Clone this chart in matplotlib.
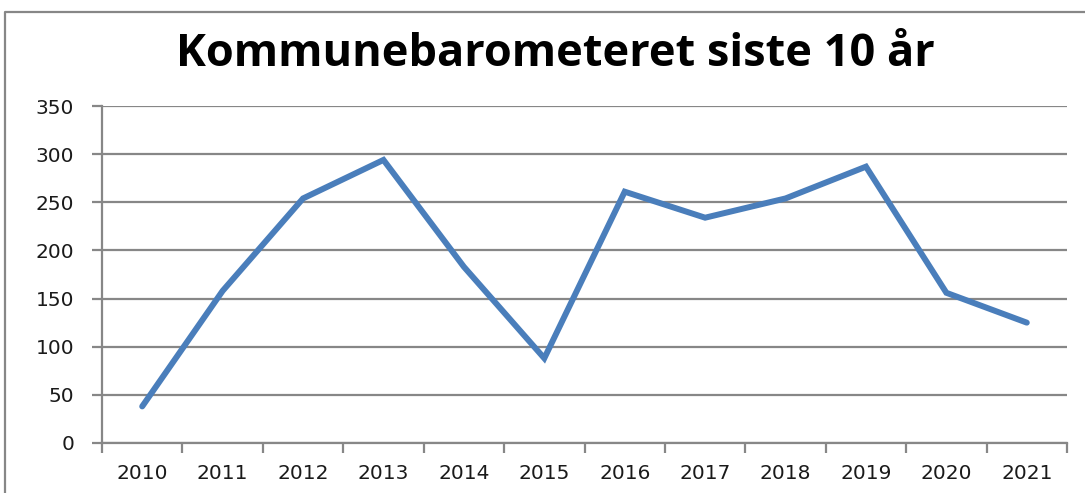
import matplotlib
matplotlib.use("Agg")
import matplotlib.pyplot as plt
from matplotlib.lines import Line2D

years = ["2010", "2011", "2012", "2013", "2014", "2015", "2016",
         "2017", "2018", "2019", "2020", "2021"]
values = [38, 158, 254, 294, 183, 88, 261, 234, 254, 287, 156, 125]
yticks = [0, 50, 100, 150, 200, 250, 300, 350]
title = "Kommunebarometeret siste 10 år"

W, H = 1085, 493
fig = plt.figure(figsize=(W / 100, H / 100), dpi=100)
fig.patch.set_facecolor("white")

# outer chart frame (left and top visible)
gray = "#878787"
fig.add_artist(Line2D([5 / W, 5 / W, 1.0], [0.0, 1 - 12 / H, 1 - 12 / H],
                      transform=fig.transFigure, color=gray, lw=1.6))

ax = fig.add_axes([102 / W, 1 - 443 / H, (1067 - 102) / W, (443 - 106) / H])
x = list(range(len(years)))
ax.plot(x, values, color="#4a7ebb", lw=4.3, solid_joinstyle="miter",
        solid_capstyle="round", zorder=3)

ax.set_xlim(-0.5, len(years) - 0.5)
ax.set_ylim(0, 350)
ax.set_yticks(yticks)
ax.set_yticklabels([str(v) for v in yticks])
ax.set_xticks(x)
ax.set_xticklabels(years)
ax.set_xticks([i - 0.5 for i in range(len(years) + 1)], minor=True)

ax.grid(axis="y", color=gray, lw=1.6, zorder=1)
ax.set_axisbelow(True)
for s in ["top", "right"]:
    ax.spines[s].set_visible(False)
for s in ["left", "bottom"]:
    ax.spines[s].set_color(gray)
    ax.spines[s].set_linewidth(1.6)

ax.tick_params(axis="y", direction="out", length=7, width=1.6, color=gray,
               pad=13, labelsize=14.5, labelcolor="#1a1a1a")
ax.tick_params(axis="x", which="major", length=0, pad=15, labelsize=14.5,
               labelcolor="#1a1a1a")
ax.tick_params(axis="x", which="minor", direction="out", length=7, width=1.6,
               color=gray)
for lab in ax.get_xticklabels() + ax.get_yticklabels():
    lab.set_family("DejaVu Sans")

fig.text(555 / W, 1 - 54 / H, title, ha="center", va="center",
         fontsize=32.5, fontweight="bold", family="Open Sans", color="black")

fig.savefig("out.png", dpi=100)
